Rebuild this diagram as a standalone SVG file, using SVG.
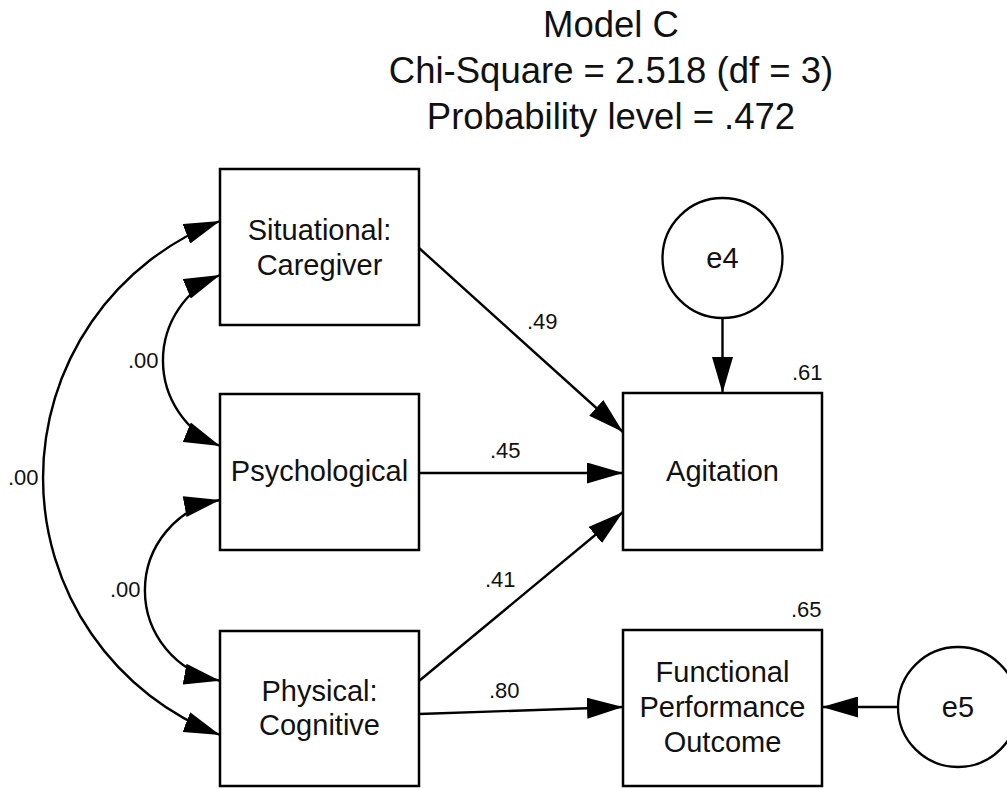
<svg xmlns="http://www.w3.org/2000/svg" width="1007" height="789" viewBox="0 0 1007 789">
<style>
  .box { fill: #fff; stroke: #000; stroke-width: 2.5; }
  .circ { fill: #fff; stroke: #000; stroke-width: 2.3; }
  .conn { fill: none; stroke: #000; stroke-width: 2.4; }
  .title { font-family: "Liberation Sans", Arial, sans-serif; font-size: 36.5px; fill: #111; text-anchor: middle; }
  .node { font-family: "Liberation Sans", Arial, sans-serif; font-size: 29px; fill: #111; text-anchor: middle; }
  .lbl { font-family: "Liberation Sans", Arial, sans-serif; font-size: 22px; fill: #111; }
</style>
<defs>
  <marker id="ah" markerUnits="userSpaceOnUse" markerWidth="36" markerHeight="21" refX="36" refY="10.5" orient="auto-start-reverse" viewBox="0 0 36 21">
    <path d="M0,0 L36,10.5 L0,21 Z" fill="#000"/>
  </marker>
</defs>
<rect width="1007" height="789" fill="#fff"/>
<g id="title">
  <text class="title" x="611" y="37">Model C</text>
  <text class="title" x="611" y="83">Chi-Square = 2.518 (df = 3)</text>
  <text class="title" x="611" y="129">Probability level = .472</text>
</g>
<g id="connectors">
  <path class="conn" d="M419,248 L623,432" marker-end="url(#ah)"/>
  <path class="conn" d="M419,473 L623,473" marker-end="url(#ah)"/>
  <path class="conn" d="M419,681 L623,512" marker-end="url(#ah)"/>
  <path class="conn" d="M419,714 L623,707" marker-end="url(#ah)"/>
  <path class="conn" d="M722.5,318 L722.5,393" marker-end="url(#ah)"/>
  <path class="conn" d="M898,707 L822,707" marker-end="url(#ah)"/>
  <path class="conn" d="M220,275 A92.6,92.6 0 0 0 220,446" marker-start="url(#ah)" marker-end="url(#ah)"/>
  <path class="conn" d="M220,500 A91.9,91.9 0 0 0 220,680.7" marker-start="url(#ah)" marker-end="url(#ah)"/>
  <path class="conn" d="M220,221 A275.1,275.1 0 0 0 220,735" marker-start="url(#ah)" marker-end="url(#ah)"/>
  <text class="lbl" x="527" y="329">.49</text>
  <text class="lbl" x="490" y="458">.45</text>
  <text class="lbl" x="485" y="587">.41</text>
  <text class="lbl" x="489" y="698">.80</text>
  <text class="lbl" x="128" y="368">.00</text>
  <text class="lbl" x="8" y="485">.00</text>
  <text class="lbl" x="110" y="597">.00</text>
</g>
<g id="situational">
  <rect class="box" x="220" y="169" width="199" height="156"/>
  <text class="node" x="319.5" y="240">Situational:</text>
  <text class="node" x="319.5" y="275">Caregiver</text>
</g>
<g id="psychological">
  <rect class="box" x="220" y="394" width="199" height="156"/>
  <text class="node" x="319.5" y="481">Psychological</text>
</g>
<g id="physical">
  <rect class="box" x="220" y="631" width="199" height="155"/>
  <text class="node" x="319.5" y="701">Physical:</text>
  <text class="node" x="319.5" y="735">Cognitive</text>
</g>
<g id="agitation">
  <rect class="box" x="623" y="393" width="199" height="157"/>
  <text class="node" x="722.5" y="481">Agitation</text>
  <text class="lbl" x="792" y="380">.61</text>
</g>
<g id="functional">
  <rect class="box" x="623" y="630" width="199" height="156"/>
  <text class="node" x="722.5" y="682">Functional</text>
  <text class="node" x="722.5" y="717">Performance</text>
  <text class="node" x="722.5" y="752">Outcome</text>
  <text class="lbl" x="791" y="617">.65</text>
</g>
<g id="e4">
  <circle class="circ" cx="722.5" cy="258" r="60"/>
  <text class="node" x="722.5" y="268">e4</text>
</g>
<g id="e5">
  <circle class="circ" cx="958" cy="707" r="60"/>
  <text class="node" x="958" y="717">e5</text>
</g>
</svg>
